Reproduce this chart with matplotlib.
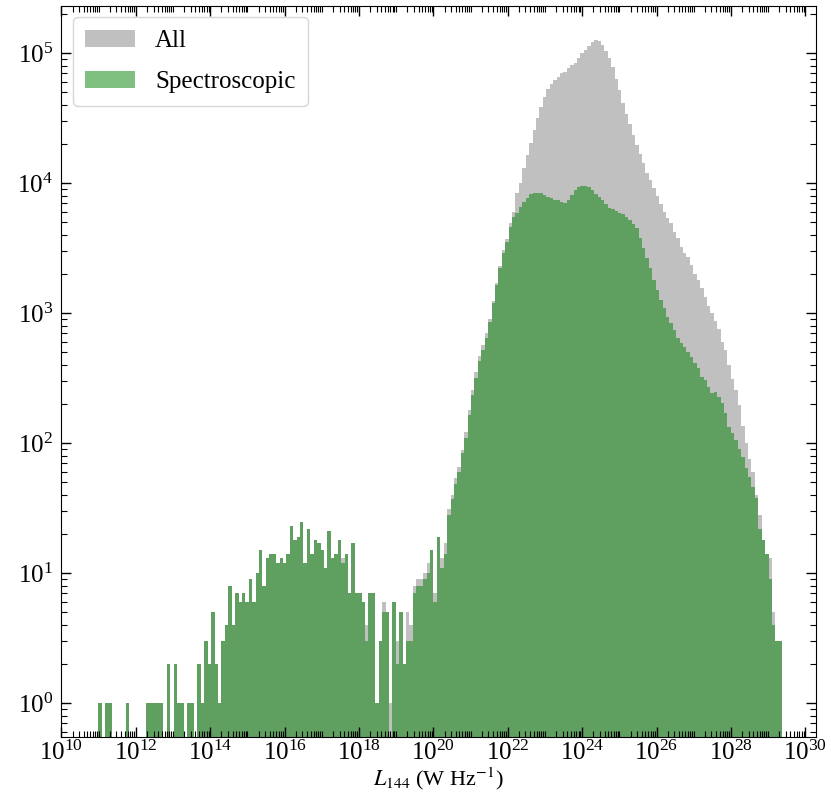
import numpy as np
import matplotlib
matplotlib.use('Agg')
import matplotlib.pyplot as plt
from matplotlib.ticker import FixedLocator, LogLocator, LogFormatterSciNotation, NullFormatter

plt.rcParams['font.family'] = ['Liberation Serif', 'DejaVu Serif']
plt.rcParams['mathtext.fontset'] = 'stix'

# histogram binning (log10 of L144 range, number of bins)
log_lmin, log_lmax, n_bins = 10.99, 29.38, 200

spec_counts = [
    1, 0, 1, 1, 0, 0, 0, 0, 1, 0,
    0, 0, 0, 0, 1, 1, 1, 1, 1, 0,
    2, 0, 2, 1, 1, 0, 1, 1, 0, 2,
    1, 3, 2, 5, 2, 1, 3, 4, 8, 4,
    7, 6, 7, 6, 9, 6, 10, 15, 8, 13,
    14, 14, 12, 13, 12, 14, 23, 18, 19, 25,
    12, 22, 14, 18, 17, 15, 11, 21, 13, 14,
    18, 12, 14, 7, 17, 7, 7, 6, 3, 7,
    7, 1, 3, 5, 5, 0, 6, 2, 5, 2,
    3, 3, 7, 8, 8, 9, 10, 15, 6, 19,
    11, 14, 28, 37, 49, 60, 84, 110, 165, 235,
    320, 430, 520, 641, 861, 1200, 1650, 2216, 2893, 3557,
    4640, 5537, 5876, 6610, 7230, 7670, 8280, 8480, 8480, 8380,
    8130, 7890, 7670, 7450, 7450, 7230, 7100, 7450, 8130, 8870,
    9310, 9530, 9530, 9420, 8870, 8280, 7800, 7450, 6940, 6410,
    6300, 6150, 5940, 5800, 5540, 5220, 4860, 4510, 3800, 3160,
    2650, 2220, 1800, 1510, 1265, 1090, 942, 837, 743, 641,
    587, 553, 507, 463, 412, 377, 325, 307, 272, 242,
    249, 228, 203, 170, 134, 119, 105, 90, 78, 65,
    55, 46, 38, 22, 18, 14, 9, 4, 3, 3,
]

all_counts = [
    1, 0, 1, 1, 0, 0, 0, 0, 1, 0,
    0, 0, 0, 0, 1, 1, 1, 1, 1, 0,
    2, 0, 2, 1, 1, 0, 1, 1, 0, 2,
    1, 3, 2, 5, 2, 1, 3, 4, 8, 4,
    7, 6, 7, 6, 9, 6, 10, 15, 8, 13,
    14, 14, 12, 13, 12, 14, 23, 18, 19, 25,
    12, 22, 14, 18, 17, 15, 11, 21, 13, 14,
    18, 13, 14, 7, 17, 7, 7, 6, 4, 7,
    7, 1, 3, 6, 5, 1, 6, 3, 5, 2,
    5, 4, 8, 9, 9, 10, 12, 15, 7, 19,
    13, 17, 31, 40, 54, 66, 89, 123, 181, 256,
    352, 472, 570, 700, 900, 1250, 1700, 2300, 3070, 3700,
    4922, 6055, 8380, 10000, 13040, 16500, 20300, 25700, 31600, 38400,
    46400, 53100, 58000, 62300, 66100, 70100, 72200, 76600, 81300, 84700,
    91500, 100000, 106000, 113800, 123000, 126700, 125100, 115800, 104800, 91500,
    78900, 63000, 52200, 41700, 34100, 28600, 23500, 19700, 16800, 14200,
    11900, 10500, 9140, 7980, 6930, 6050, 5370, 4920, 4250, 3770,
    3250, 2890, 2730, 2350, 2000, 1800, 1560, 1340, 1140, 1010,
    878, 753, 605, 522, 400, 310, 257, 197, 135, 100,
    75, 60, 40, 28, 18, 14, 13, 5, 3, 3,
]

x_major_exponents = list(range(10, 31, 2))
series_labels = ['All', 'Spectroscopic']

edges = np.logspace(log_lmin, log_lmax, n_bins + 1)

fig = plt.figure(figsize=(8.31, 7.96), dpi=100)
ax = fig.add_axes([0.074, 0.0745, 0.908, 0.918])

ax.stairs(all_counts, edges, fill=True, color='silver', label=series_labels[0])
ax.stairs(spec_counts, edges, fill=True, color='green', alpha=0.5, label=series_labels[1])

ax.set_xscale('log')
ax.set_yscale('log')
ax.set_xlim(1e10, 10 ** 30.29)
ax.set_ylim(0.553, 2.31e5)

ax.xaxis.set_major_locator(FixedLocator([10.0 ** e for e in x_major_exponents]))
ax.xaxis.set_major_formatter(LogFormatterSciNotation())
ax.xaxis.set_minor_locator(LogLocator(base=10, subs=np.arange(1, 10), numticks=400))
ax.xaxis.set_minor_formatter(NullFormatter())
ax.yaxis.set_major_locator(LogLocator(base=10, numticks=20))
ax.yaxis.set_minor_locator(LogLocator(base=10, subs=np.arange(2, 10), numticks=100))
ax.yaxis.set_minor_formatter(NullFormatter())

ax.tick_params(which='both', direction='in', top=True, right=True, labelsize=18)
ax.tick_params(which='major', length=7, width=1)
ax.tick_params(axis='x', which='major', pad=3)
ax.tick_params(axis='y', which='major', pad=6)
ax.tick_params(which='minor', length=4, width=0.8)

ax.set_xlabel(r'$L_{144}$ (W Hz$^{-1}$)', fontsize=16, labelpad=0)

leg = ax.legend(loc='upper left', fontsize=18, frameon=True, fancybox=True,
                borderaxespad=0.45, labelspacing=0.75, borderpad=0.5,
                handleheight=0.7)
leg.get_frame().set_edgecolor('#cccccc')

fig.savefig('out.png', dpi=100)
